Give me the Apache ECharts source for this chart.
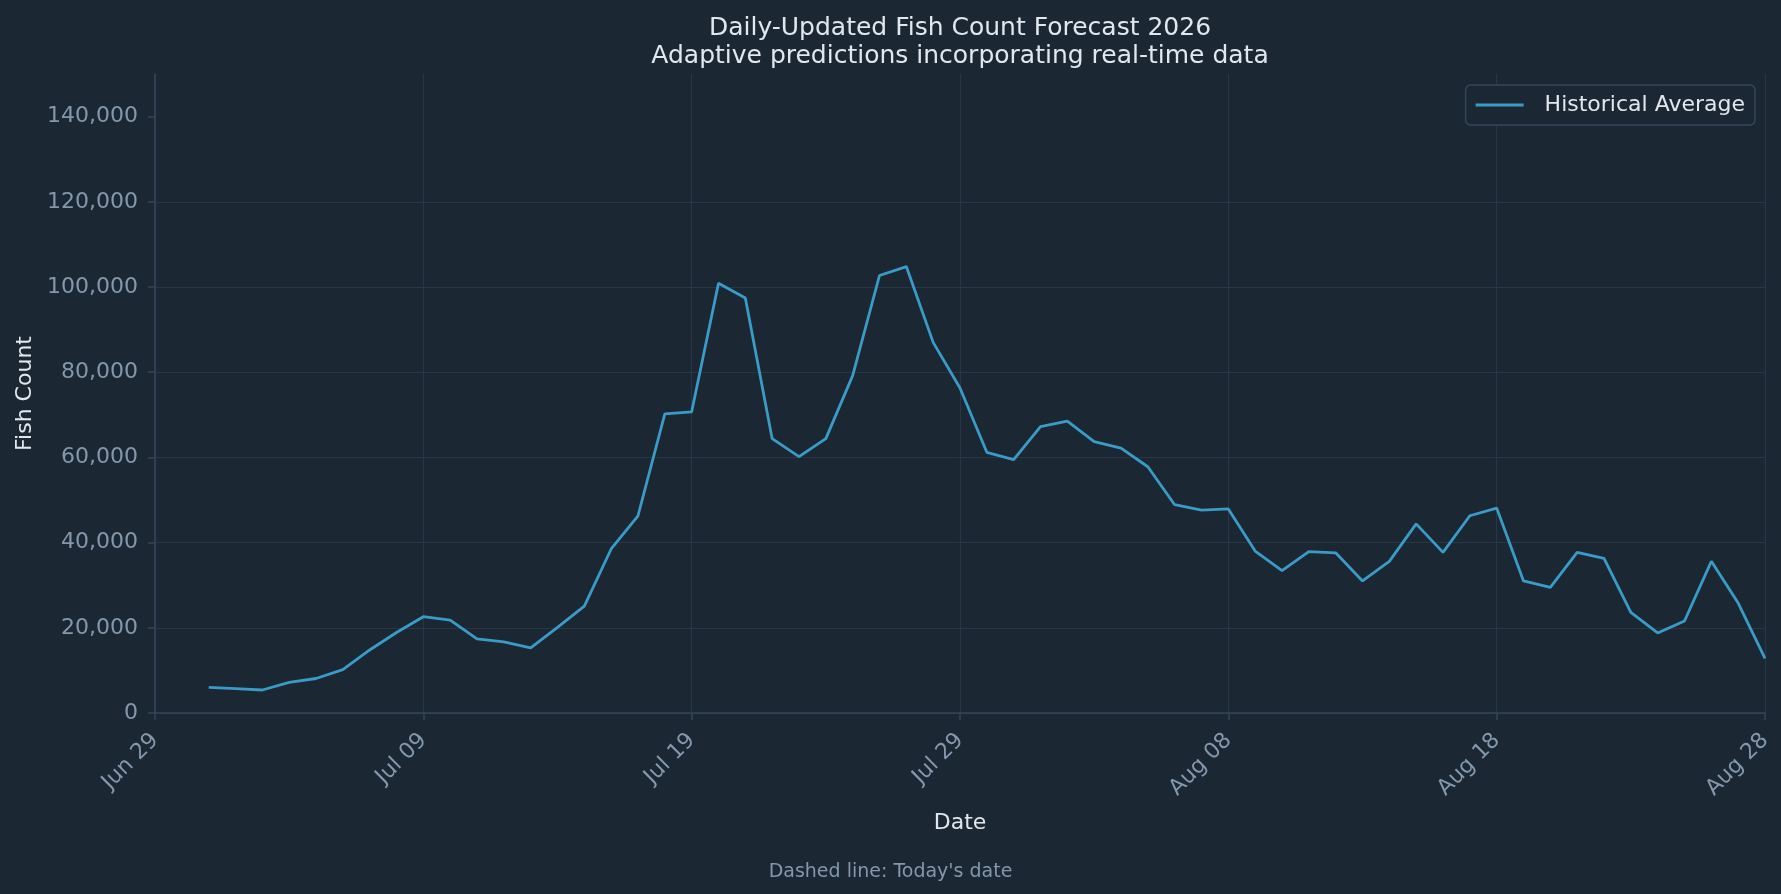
<!DOCTYPE html>
<html>
<head>
<meta charset="UTF-8">
<title>Daily-Updated Fish Count Forecast 2026</title>
<style>
body {
    padding: 0;
    margin: 0;
    background: #1b2733;
}
#main {
    width: 1781px;
    height: 894px;
}
</style>
</head>
<body>
<div id="main"></div>
<script src="https://cdn.jsdelivr.net/npm/echarts@6/dist/echarts.min.js"></script>
<script>
// x axis: days after Jun 29, one point per day from Jul 01
var tickLabels = ['Jun 29', 'Jul 09', 'Jul 19', 'Jul 29', 'Aug 08', 'Aug 18', 'Aug 28'];
var firstDay = 2;
var julyAvg = [6000, 5700, 5400, 7200, 8100, 10200, 14800, 18900, 22600, 21800,
    17400, 16700, 15300, 20100, 25100, 38500, 46300, 70200, 70700, 100900,
    97400, 64400, 60200, 64400, 79200, 102700, 104800, 87000, 76300, 61200, 59500];
var augustAvg = [67200, 68500, 63700, 62200, 57800, 48900, 47600, 47900, 38000, 33400,
    37900, 37600, 31000, 35600, 44400, 37700, 46300, 48100, 31000, 29500,
    37700, 36300, 23600, 18800, 21600, 35600, 25800, 12800];
var yTicks = [0, 20000, 40000, 60000, 80000, 100000, 120000, 140000];

var historical = julyAvg.concat(augustAvg).map(function (v, i) {
    return [firstDay + i, v];
});

var font = 'DejaVu Sans';
var chart = echarts.init(document.getElementById('main'));
var option = {
    backgroundColor: '#1b2733',
    animation: false,
    textStyle: { fontFamily: font },
    title: {
        text: 'Daily-Updated Fish Count Forecast 2026\nAdaptive predictions incorporating real-time data',
        left: 955,
        top: 9,
        textAlign: 'center',
        textStyle: {
            color: '#e1e7ee',
            fontSize: 25,
            fontWeight: 'normal',
            lineHeight: 28,
            fontFamily: font
        }
    },
    legend: {
        data: ['Historical Average'],
        icon: 'rect',
        right: 26,
        top: 85,
        padding: [9, 10, 9, 10],
        borderColor: '#33475a',
        borderWidth: 1.5,
        borderRadius: 5,
        backgroundColor: '#1b2733',
        itemWidth: 48,
        itemHeight: 3,
        textStyle: {
            color: '#e1e7ee',
            fontSize: 22,
            fontFamily: font,
            padding: [0, 0, 0, 16]
        }
    },
    grid: {
        left: 155,
        right: 16,
        top: 74,
        bottom: 181
    },
    xAxis: {
        type: 'value',
        min: 0,
        max: 60,
        interval: 10,
        name: 'Date',
        nameLocation: 'middle',
        nameGap: 99,
        nameTextStyle: { color: '#e1e7ee', fontSize: 22, fontFamily: font },
        axisLine: { show: true, lineStyle: { color: '#34465a', width: 1.5 } },
        axisTick: { show: true, length: 7, lineStyle: { color: '#34465a', width: 1.5 } },
        axisLabel: {
            color: '#8497ab',
            fontSize: 22,
            fontFamily: font,
            rotate: 45,
            margin: 24,
            formatter: function (v) { return tickLabels[Math.round(v / 10)]; }
        },
        splitLine: { show: true, lineStyle: { color: '#283747', width: 1.2 } }
    },
    yAxis: {
        type: 'value',
        min: 0,
        max: 150000,
        interval: 20000,
        name: 'Fish Count',
        nameLocation: 'middle',
        nameGap: 118,
        nameTextStyle: { color: '#e1e7ee', fontSize: 22, fontFamily: font },
        axisLine: { show: true, lineStyle: { color: '#34465a', width: 1.5 } },
        axisTick: { show: true, length: 7, customValues: yTicks, lineStyle: { color: '#34465a', width: 1.5 } },
        axisLabel: {
            color: '#8497ab',
            fontSize: 22,
            fontFamily: font,
            margin: 17,
            customValues: yTicks,
            formatter: function (v) { return v.toLocaleString('en-US'); }
        },
        splitLine: { show: true, showMaxLine: false, lineStyle: { color: '#283747', width: 1.2 } }
    },
    graphic: [{
        type: 'text',
        left: 'center',
        top: 863,
        style: {
            text: "Dashed line: Today's date",
            fill: '#8497ab',
            fontSize: 19,
            fontFamily: font
        }
    }],
    series: [{
        name: 'Historical Average',
        type: 'line',
        data: historical,
        symbol: 'none',
        clip: true,
        lineStyle: { color: '#3a9bc7', width: 2.8 },
        itemStyle: { color: '#3a9bc7' }
    }]
};
chart.setOption(option);
</script>
</body>
</html>
